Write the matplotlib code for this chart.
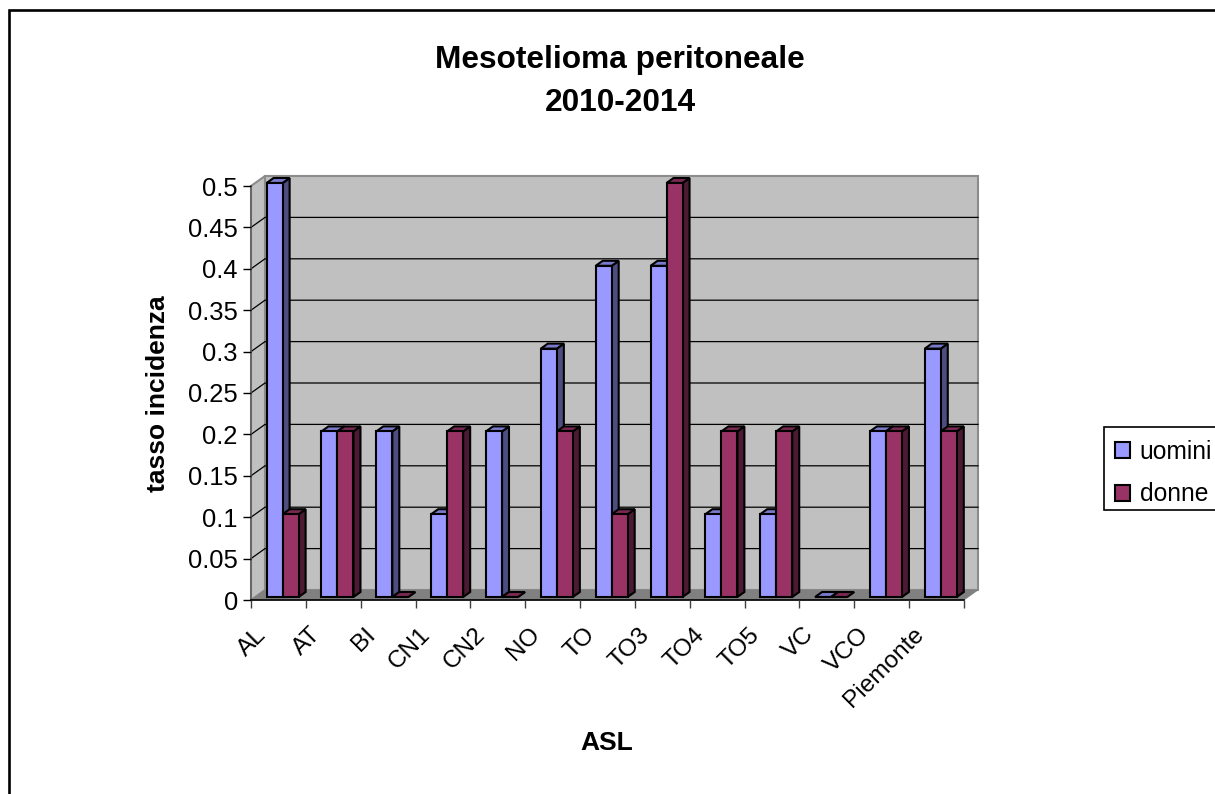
#!/usr/bin/env python3
import matplotlib
matplotlib.use("Agg")
import matplotlib.pyplot as plt
import numpy as np
from matplotlib.patches import Patch, Polygon, Rectangle

categories = ["AL", "AT", "BI", "CN1", "CN2", "NO", "TO", "TO3", "TO4", "TO5", "VC", "VCO", "Piemonte"]
uomini = [0.5, 0.2, 0.2, 0.1, 0.2, 0.3, 0.4, 0.4, 0.1, 0.1, 0.0, 0.2, 0.3]
donne = [0.1, 0.2, 0.0, 0.2, 0.0, 0.2, 0.1, 0.5, 0.2, 0.2, 0.0, 0.2, 0.2]
y_ticks = [0, 0.05, 0.1, 0.15, 0.2, 0.25, 0.3, 0.35, 0.4, 0.45, 0.5]
y_labels = ["0", "0.05", "0.1", "0.15", "0.2", "0.25", "0.3", "0.35", "0.4", "0.45", "0.5"]

plt.rcParams["font.family"] = ["Liberation Sans", "DejaVu Sans"]

W, H = 1215, 794
fig = plt.figure(figsize=(W / 100, H / 100), dpi=100)
fig.patch.set_facecolor("white")

# front plane of the plot, in pixels of the picture
left, right, top, bottom = 251, 964, 186, 600
ax = fig.add_axes([left / W, 1 - bottom / H, (right - left) / W, (bottom - top) / H])
ax.set_xlim(0, len(categories))
ax.set_ylim(0, 0.5)
ax.patch.set_visible(False)

# 3D depth of the fake box, converted to data units
depth_x = 14 / ((right - left) / len(categories))
depth_y = 10 * 0.5 / (bottom - top)


def poly(points, face, edge="none", lw=0.0, z=1.0):
    ax.add_patch(Polygon(points, closed=True, facecolor=face, edgecolor=edge,
                         linewidth=lw, zorder=z, clip_on=False, joinstyle="miter"))


# walls and floor
n = len(categories)
poly([(depth_x, depth_y), (n + depth_x, depth_y), (n + depth_x, 0.5 + depth_y), (depth_x, 0.5 + depth_y)],
     "#C0C0C0", "#8C8C8C", 1.5, 0.5)
poly([(0, 0), (depth_x, depth_y), (depth_x, 0.5 + depth_y), (0, 0.5)], "#C0C0C0", "#8C8C8C", 1.5, 0.6)
poly([(0, 0), (n, 0), (n + depth_x, depth_y), (depth_x, depth_y)], "#808080", "#808080", 0.5, 0.7)

# gridlines on the back wall and the side wall
for v in y_ticks[1:-1]:
    ax.plot([0, depth_x, n + depth_x], [v, v + depth_y, v + depth_y], color="black", lw=0.9,
            clip_on=False, zorder=0.9, solid_joinstyle="miter")

# bars sit in the middle of the depth
d0, d1 = 0.3, 0.8
bar_w = 16 / ((right - left) / len(categories))
centers = np.arange(n) + 0.5 + d0 * depth_x

series = [
    (uomini, "uomini", "#9999FF", "#4D4D80", "#7A7ACC", -bar_w / 2, 3),
    (donne, "donne", "#993366", "#4D1A33", "#7A2952", bar_w / 2, 5),
]
for values, name, face, side, lid, shift, z in series:
    xs = centers + shift
    ax.bar(xs, values, width=bar_w, bottom=d0 * depth_y, color=face, edgecolor="black",
           linewidth=1.5, clip_on=False, zorder=z + 0.5)
    for x, v in zip(xs, values):
        x0, x1 = x - bar_w / 2, x + bar_w / 2
        ddx, ddy = (d1 - d0) * depth_x, (d1 - d0) * depth_y
        yb, yt = d0 * depth_y, v + d0 * depth_y
        poly([(x1, yb), (x1 + ddx, yb + ddy), (x1 + ddx, yt + ddy), (x1, yt)], side, "black", 1.5, z)
        poly([(x0, yt), (x1, yt), (x1 + ddx, yt + ddy), (x0 + ddx, yt + ddy)], lid, "black", 1.5, z + 0.2)

# axes
for s in ["top", "right"]:
    ax.spines[s].set_visible(False)
ax.spines["left"].set_color("#606060")
ax.spines["left"].set_linewidth(1.2)
ax.spines["left"].set_zorder(1)
ax.spines["bottom"].set_color("black")
ax.spines["bottom"].set_linewidth(1.2)
ax.spines["bottom"].set_zorder(1)

ax.set_yticks(y_ticks)
ax.set_yticklabels(y_labels, fontsize=18.4)
ax.tick_params(axis="y", length=6, width=1, color="black", pad=3.5)

ax.set_xticks(np.arange(n + 1))
ax.set_xticklabels([])
ax.tick_params(axis="x", which="major", length=6, width=1, color="#404040")
ax.set_xticks(np.arange(n) + 0.065, minor=True)
ax.set_xticklabels(categories, minor=True, fontsize=17.6, rotation=45, ha="right", rotation_mode="anchor")
ax.tick_params(axis="x", which="minor", length=0, pad=17)

ax.set_ylabel("tasso incidenza", fontsize=19, fontweight="bold")
ax.yaxis.set_label_coords((170 - left) / (right - left), 0.5 + (600 - 394 - 207) / 414, transform=ax.transAxes)
fig.text(607 / W, 1 - 743 / H, "ASL", fontsize=19, fontweight="bold", ha="center", va="center")

fig.text(620 / W, 1 - 81.5 / H, "Mesotelioma peritoneale\n2010-2014", fontsize=22.8, fontweight="bold",
         ha="center", va="center", linespacing=1.55)

# legend box drawn on its own, it runs off the right side of the picture
fig.add_artist(Rectangle((1104 / W, 1 - 510 / H), 0.2, 83 / H, transform=fig.transFigure, facecolor="white",
                         edgecolor="black", linewidth=1.2, clip_on=False))
handles = [Patch(facecolor="#9999FF", edgecolor="black", linewidth=1.5),
           Patch(facecolor="#993366", edgecolor="black", linewidth=1.5)]
leg = fig.legend(handles, ["uomini", "donne"], loc="upper left", bbox_to_anchor=(1104 / W, 1 - 429 / H),
                 borderaxespad=0, frameon=False, fontsize=17.7,
                 handlelength=0.62, handleheight=0.62, handletextpad=0.38, labelspacing=0.74, borderpad=0.45)
leg.set_zorder(5)

# outer chart border, runs off the right and bottom of the picture
fig.add_artist(Rectangle((9 / W, -0.02), 1.1, 1.02 - 10 / H, transform=fig.transFigure, fill=False,
                         edgecolor="black", linewidth=1.9, clip_on=False))

fig.savefig("out.png", dpi=100)
